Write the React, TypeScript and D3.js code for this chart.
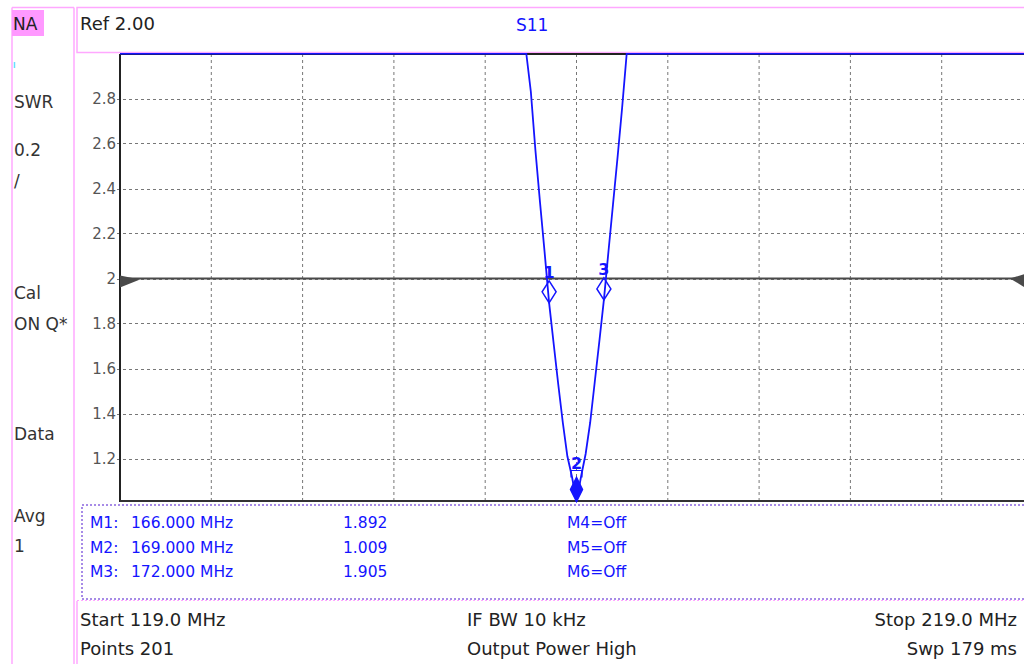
import React from "react";
import * as d3 from "d3";

// ---- data ----
const FREQ_START = 119.0;
const FREQ_STOP = 219.0;
const SWR_MIN = 1.0;
const SWR_MAX = 3.0;

const TRACE_FREQ_MHZ = [119, 162.5, 163, 163.5, 164, 164.5, 165, 165.5, 166, 166.5, 167, 167.5, 168, 168.5, 169, 169.5, 170, 170.5, 171, 171.5, 172, 172.5, 173, 173.5, 174, 174.5, 175, 175.5, 219];
const TRACE_SWR = [12, 3.55, 3.3, 3.05, 2.83, 2.57, 2.34, 2.12, 1.892, 1.71, 1.53, 1.36, 1.21, 1.12, 1.009, 1.12, 1.22, 1.36, 1.54, 1.72, 1.905, 2.12, 2.33, 2.54, 2.76, 3.0, 3.25, 3.5, 12];

const Y_TICKS = [1.2, 1.4, 1.6, 1.8, 2.0, 2.2, 2.4, 2.6, 2.8];
const Y_TICK_LABELS = ["1.2", "1.4", "1.6", "1.8", "2", "2.2", "2.4", "2.6", "2.8"];
const X_GRID = [129, 139, 149, 159, 169, 179, 189, 199, 209, 219];
const REF_LEVEL = 2.0;

const MARKER_IDS = ["1", "2", "3"];
const MARKER_FREQ = [166.0, 169.0, 172.0];
const MARKER_SWR = [1.892, 1.009, 1.905];
const MARKER_FREQ_TEXT = ["166.000 MHz", "169.000 MHz", "172.000 MHz"];
const MARKER_VAL_TEXT = ["1.892", "1.009", "1.905"];
const MARKER_OFF = ["M4=Off", "M5=Off", "M6=Off"];
const ACTIVE_MARKER = 1;

const LEFT_LABELS = ["SWR", "0.2", "/", "Cal", "ON Q*", "Data", "Avg", "1"];
const LEFT_LABEL_Y = [108, 156, 187, 299, 330, 440, 522, 552];

const FONT = "'DejaVu Sans', Verdana, sans-serif";
const BLUE = "#1414ff";
const PINK = "#ffa8ff";

export default function App() {
  const plotLeft = 120;
  const plotTop = 54;
  const plotBottom = 501;
  const x = d3.scaleLinear().domain([FREQ_START, FREQ_STOP]).range([120, 1033]);
  const y = d3.scaleLinear().domain([SWR_MIN, SWR_MAX]).range([503.5, 53.5]);
  const yc = (v: number) => y(Math.max(SWR_MIN, Math.min(SWR_MAX, v)));

  const pts: [number, number][] = TRACE_FREQ_MHZ.map((f, i) => [f, TRACE_SWR[i]]);
  const line = d3
    .line<[number, number]>()
    .x((d) => x(d[0]))
    .y((d) => yc(d[1]));
  const tracePath = line(pts) || "";

  const refY = y(REF_LEVEL);

  return (
    <svg
      width={1024}
      height={664}
      style={{ position: "absolute", left: 0, top: 0, background: "#fff" }}
      fontFamily={FONT}
    >
      <rect x={0} y={0} width={1024} height={664} fill="#fff" />
      <defs>
        <clipPath id="plotclip">
          <rect x={plotLeft} y={plotTop - 1} width={1024 - plotLeft} height={plotBottom - plotTop + 2} />
        </clipPath>
      </defs>

      {/* left panel */}
      <line x1={12} y1={7.5} x2={12} y2={664} stroke={PINK} strokeWidth={1.5} />
      <line x1={74} y1={7.5} x2={74} y2={664} stroke={PINK} strokeWidth={1.5} />
      <line x1={12} y1={7.5} x2={74} y2={7.5} stroke={PINK} strokeWidth={1.5} />
      <rect x={12} y={10} width={32} height={26} fill="#ff99ff" />
      <text x={13} y={30} fontSize={17} fill="#222">NA</text>
      <line x1={14.5} y1={62} x2={14.5} y2={68} stroke="#66e0ff" strokeWidth={1.5} />
      {LEFT_LABELS.map((t, i) => (
        <text key={t + i} x={14} y={LEFT_LABEL_Y[i]} fontSize={17} fill="#333">
          {t}
        </text>
      ))}

      {/* header box */}
      <rect x={77} y={7.5} width={960} height={45} fill="none" stroke={PINK} strokeWidth={1.5} />
      <text x={80} y={30} fontSize={18} fill="#222">Ref 2.00</text>
      <text x={516} y={31} fontSize={17} fill={BLUE}>S11</text>

      {/* grid */}
      {X_GRID.map((f) => (
        <line
          key={"vx" + f}
          x1={x(f)}
          x2={x(f)}
          y1={plotTop}
          y2={plotBottom}
          stroke="#777"
          strokeWidth={1}
          strokeDasharray="3,3"
        />
      ))}
      {Y_TICKS.map((v) => (
        <line
          key={"hy" + v}
          x1={117}
          x2={1024}
          y1={Math.round(y(v)) + 0.5}
          y2={Math.round(y(v)) + 0.5}
          stroke="#777"
          strokeWidth={1}
          strokeDasharray="3,3"
        />
      ))}
      {Y_TICKS.map((v, i) => (
        <text
          key={"ty" + v}
          x={116}
          y={y(v) + 5.5}
          fontSize={15}
          fill="#555"
          textAnchor="end"
        >
          {Y_TICK_LABELS[i]}
        </text>
      ))}

      {/* frame */}
      <line x1={plotLeft} y1={plotTop} x2={plotLeft} y2={plotBottom + 1} stroke="#222" strokeWidth={2} />
      <line x1={plotLeft} y1={plotTop} x2={1024} y2={plotTop} stroke="#222" strokeWidth={2} />
      <line x1={plotLeft} y1={plotBottom} x2={1024} y2={plotBottom} stroke="#333" strokeWidth={2} />

      {/* reference line and arrows */}
      <line x1={plotLeft} y1={refY} x2={1024} y2={refY} stroke="#4a4a4a" strokeWidth={2} />
      <path
        d={`M${plotLeft},${refY - 3} L${plotLeft + 20},${refY + 1} L${plotLeft},${refY + 9} Z`}
        fill="#4a4a4a"
      />
      <path d={`M1010,${refY} L1030,${refY - 6} L1030,${refY + 12} Z`} fill="#4a4a4a" />

      {/* trace */}
      <g clipPath="url(#plotclip)">
        <path d={tracePath} fill="none" stroke={BLUE} strokeWidth={1.8} />
      </g>

      {/* markers */}
      {MARKER_IDS.map((id, i) => {
        const mx = x(MARKER_FREQ[i]);
        const my = y(MARKER_SWR[i]);
        const active = i === ACTIVE_MARKER;
        const h = active ? 24 : 22;
        const w = active ? 6 : 7;
        const d = `M${mx},${my} L${mx - w},${my - h / 2} L${mx},${my - h} L${mx + w},${my - h / 2} Z`;
        return (
          <g key={"m" + id}>
            <path d={d} fill={active ? BLUE : "#fff"} fillOpacity={active ? 1 : 0} stroke={BLUE} strokeWidth={1.5} />
            {active && (
              <path
                d={`M${mx - 5.5},${my - h} V${my - h - 7} H${mx + 5.5} V${my - h}`}
                fill="none"
                stroke={BLUE}
                strokeWidth={1.2}
              />
            )}
            <text
              x={mx}
              y={my - h - (active ? 8 : 3)}
              fontSize={16}
              fontWeight="bold"
              fill={BLUE}
              textAnchor="middle"
            >
              {id}
            </text>
          </g>
        );
      })}

      {/* marker readout box */}
      <rect
        x={82}
        y={505}
        width={1000}
        height={94}
        fill="none"
        stroke="#8a66e0"
        strokeWidth={1.5}
        strokeDasharray="2,2"
      />
      {MARKER_IDS.map((id, i) => (
        <g key={"r" + id} fontSize={15.5} fill={BLUE}>
          <text x={90} y={528 + i * 24.5}>{`M${id}:`}</text>
          <text x={131} y={528 + i * 24.5}>{MARKER_FREQ_TEXT[i]}</text>
          <text x={343} y={528 + i * 24.5}>{MARKER_VAL_TEXT[i]}</text>
          <text x={567} y={528 + i * 24.5}>{MARKER_OFF[i]}</text>
        </g>
      ))}

      {/* footer */}
      <line x1={77} y1={601} x2={77} y2={664} stroke={PINK} strokeWidth={1.5} />
      <line x1={77} y1={600.5} x2={1024} y2={600.5} stroke={PINK} strokeWidth={1} strokeDasharray="2,2" />
      <g fontSize={18} fill="#222">
        <text x={80} y={626}>Start 119.0 MHz</text>
        <text x={80} y={655}>Points 201</text>
        <text x={467} y={626}>IF BW 10 kHz</text>
        <text x={467} y={655}>Output Power High</text>
        <text x={1017} y={626} textAnchor="end">Stop 219.0 MHz</text>
        <text x={1017} y={655} textAnchor="end">Swp 179 ms</text>
      </g>
    </svg>
  );
}
